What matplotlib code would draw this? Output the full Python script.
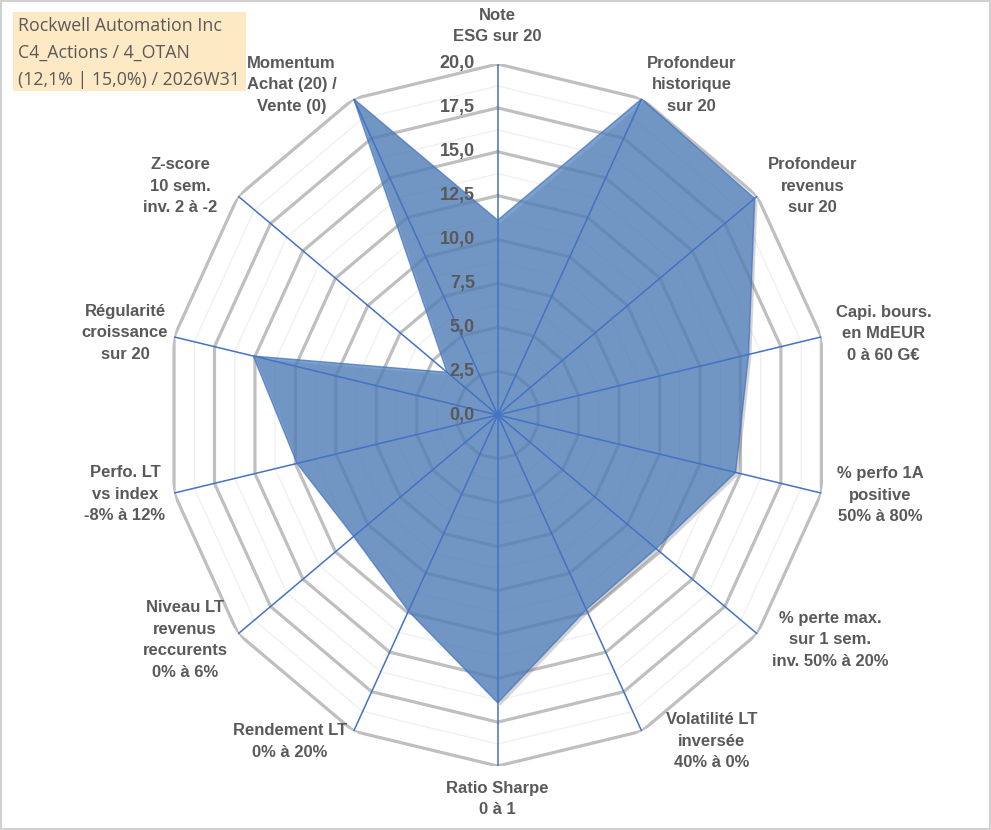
import numpy as np
import matplotlib
matplotlib.use("Agg")
import matplotlib.pyplot as plt
from matplotlib import patheffects as pe
from matplotlib.patches import Rectangle

# ---------------- data ----------------
categories = [
    "Note\nESG sur 20",
    "Profondeur\nhistorique\nsur 20",
    "Profondeur\nrevenus\nsur 20",
    "Capi. bours.\nen MdEUR\n0 à 60 G€",
    "% perfo 1A\npositive\n50% à 80%",
    "% perte max.\nsur 1 sem.\ninv. 50% à 20%",
    "Volatilité LT\ninversée\n40% à 0%",
    "Ratio Sharpe\n0 à 1",
    "Rendement LT\n0% à 20%",
    "Niveau LT\nrevenus\nreccurents\n0% à 6%",
    "Perfo. LT\nvs index\n-8% à 12%",
    "Régularité\ncroissance\nsur 20",
    "Z-score\n10 sem.\ninv. 2 à -2",
    "Momentum\nAchat (20) /\nVente (0)",
]
values = [11.1, 20.0, 19.8, 15.5, 14.7, 12.2, 12.3, 16.4, 12.4, 11.1, 12.4, 15.1, 3.9, 20.0]
tick_values = [0.0, 2.5, 5.0, 7.5, 10.0, 12.5, 15.0, 17.5, 20.0]
tick_labels = ["0,0", "2,5", "5,0", "7,5", "10,0", "12,5", "15,0", "17,5", "20,0"]
title_lines = ["Rockwell Automation Inc", "C4_Actions / 4_OTAN", "(12,1% | 15,0%) / 2026W31"]

# label offsets (pixels) from each axis end point (layout only)
label_offsets_px = [(0, 38), (50, 14), (55, 10), (62, 3), (59, -2), (73, -6), (70, -10),
                    (0, -33), (-64, -10), (-53, -6), (-49, -1), (-49, 4), (-58, 10), (-62, 14)]

W, H, DPI = 991, 830, 100
fig = plt.figure(figsize=(W / DPI, H / DPI), dpi=DPI)
fig.patch.set_facecolor("white")

cx, cy, rx, ry = 497.7, 415.0, 332.0, 351.0
ax = fig.add_axes([(cx - rx) / W, (H - cy - ry) / H, 2 * rx / W, 2 * ry / H], projection="polar")
ax.set_aspect("auto")
ax.set_theta_zero_location("N")
ax.set_theta_direction(-1)
ax.set_ylim(0, 20)
ax.grid(False)
ax.spines["polar"].set_visible(False)
ax.set_xticks([])
ax.set_yticks([])
ax.patch.set_visible(False)

n = len(categories)
theta = np.arange(n) * 2 * np.pi / n
theta_c = np.append(theta, theta[0])

# polygon grid
levels = np.arange(1.25, 20.01, 1.25)
for lv in levels:
    major = abs(lv / 2.5 - round(lv / 2.5)) < 1e-9
    ax.plot(theta_c, np.full(n + 1, lv),
            color="#BFBFBF" if major else "#EFEFEF",
            lw=2.3 if major else 0.9, zorder=1, solid_joinstyle="miter")

# series
vals_c = np.append(values, values[0])
ax.fill(theta_c, vals_c, facecolor="#4F81BD", alpha=0.74, edgecolor="#4472C4", lw=1.0, zorder=3,
        path_effects=[pe.SimplePatchShadow(offset=(2, -2), shadow_rgbFace="#555555", alpha=0.25),
                      pe.Normal()])

# spokes
for t in theta:
    ax.plot([t, t], [0, 20], color="#4472C4", lw=1.1, zorder=4)

# value labels
for v, l in zip(tick_values, tick_labels):
    ax.annotate(l, (0, v), xytext=(-16.5, 0), textcoords="offset points",
                ha="right", va="center", fontsize=13, fontweight="bold",
                color="#595959", family="Liberation Sans", zorder=6,
                annotation_clip=False)

# category labels
for t, lab, (dx, dy) in zip(theta, categories, label_offsets_px):
    ax.annotate(lab, (t, 20), xytext=(dx * 0.72, dy * 0.72), textcoords="offset points",
                ha="center", va="center", multialignment="center",
                fontsize=12, fontweight="bold", color="#595959",
                family="Liberation Sans", linespacing=1.55, annotation_clip=False)

# title box
fig.patches.append(Rectangle((13 / W, 1 - 91 / H), (246 - 13) / W, (91 - 12) / H,
                             transform=fig.transFigure, facecolor="#FDE9C4",
                             edgecolor="none", zorder=0))
for i, line in enumerate(title_lines):
    fig.text(18 / W, 1 - (26 + 27 * i) / H, line, ha="left", va="center",
             fontsize=12.8, color="#595959", family="Open Sans")

# outer border
fig.patches.append(Rectangle((0.5 / W, 1.5 / H), (W - 2) / W, (H - 3) / H,
                             transform=fig.transFigure, fill=False,
                             edgecolor="#D0D0D0", lw=1.5))

fig.savefig("out.png", dpi=DPI)
